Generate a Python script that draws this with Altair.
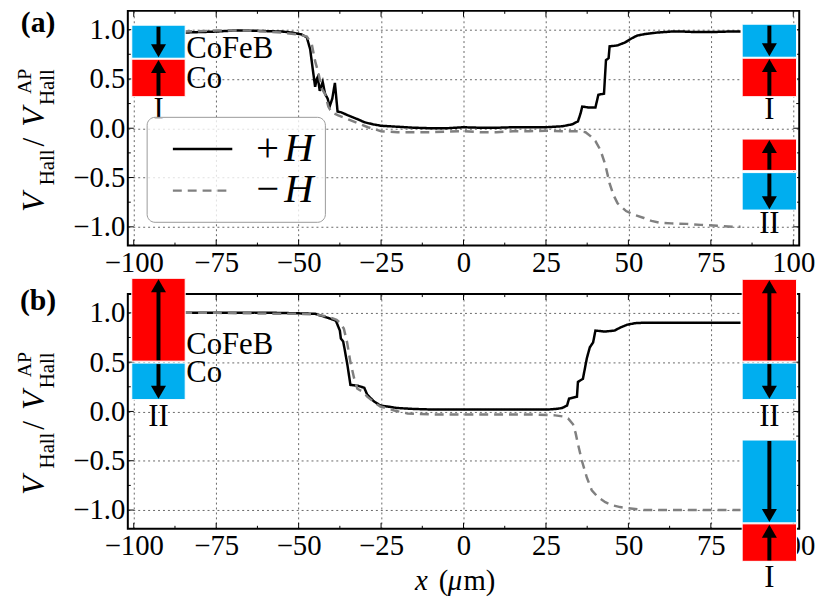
import altair as alt
import pandas as pd

# ------------------------------------------------------------------ data
# panel (a)
a_pos_x = [-85, -80, -75, -70, -65, -60, -55, -52, -49, -47.5, -46.5, -45.8, -45, -44.5, -44.2, -43.6,
           -42.7, -42, -41.2, -40.6, -39.8, -39, -38.2, -37, -35, -32, -30, -27.5, -25, -20, -15, -10,
           -5, 0, 5, 10, 15, 20, 25, 30, 33, 34.7, 35.5, 36, 38, 40, 40.9, 42.6, 43.2, 44, 44.3, 46.7,
           49, 50.9, 52.7, 55, 58.7, 62.9, 67, 70, 75, 80, 84]
a_pos_y = [0.97, 0.975, 0.98, 0.99, 0.99, 0.985, 0.98, 0.97, 0.95, 0.92, 0.80, 0.62, 0.42, 0.50, 0.52,
           0.38, 0.47, 0.35, 0.30, 0.22, 0.30, 0.46, 0.17, 0.16, 0.13, 0.09, 0.06, 0.04, 0.025, 0.015,
           0.005, 0.0, 0.0, 0.01, 0.005, 0.005, 0.01, 0.01, 0.01, 0.02, 0.04, 0.07, 0.15, 0.22, 0.21,
           0.21, 0.34, 0.35, 0.69, 0.71, 0.83, 0.84, 0.87, 0.91, 0.94, 0.955, 0.97, 0.98, 0.98, 0.975,
           0.975, 0.98, 0.98]
a_neg_x = [-85, -75, -65, -55, -50, -47.5, -46, -45, -44, -43, -42, -41, -40, -38, -35, -32, -29, -25,
           -20, -15, -10, -5, 0, 5, 10, 15, 20, 25, 30, 35, 37, 38.5, 40, 41.5, 43, 44.3, 45.5, 46.7,
           48, 49.3, 52, 54.7, 57, 59.8, 63, 67.7, 72, 77, 82.7, 84]
a_neg_y = [0.98, 0.99, 0.99, 0.97, 0.95, 0.93, 0.85, 0.68, 0.56, 0.40, 0.35, 0.22, 0.16, 0.13, 0.09,
           0.05, 0.01, -0.03, -0.04, -0.04, -0.04, -0.035, -0.03, -0.04, -0.04, -0.03, -0.03, -0.025,
           -0.03, -0.03, -0.04, -0.08, -0.13, -0.22, -0.37, -0.56, -0.68, -0.76, -0.80, -0.84, -0.88,
           -0.91, -0.94, -0.96, -0.965, -0.97, -0.98, -0.99, -1.0, -1.0]
# panel (b)
b_pos_x = [-85, -75, -65, -57, -50, -45, -41.2, -38.7, -37.5, -37.2, -36.5, -36.1, -35.2, -34.3, -32,
           -30.1, -29.2, -27.1, -25.2, -22, -20.2, -15, -10, 0, 10, 20, 25.7, 28, 29.9, 31.4, 32, 34.4,
           34.7, 36.2, 37.4, 38.3, 39.3, 40, 42.8, 45.8, 47.5, 49.7, 52, 54.7, 60, 70, 84]
b_pos_y = [1.0, 1.0, 1.0, 1.0, 0.995, 0.99, 0.95, 0.92, 0.82, 0.74, 0.71, 0.64, 0.47, 0.27, 0.26, 0.24,
           0.17, 0.10, 0.06, 0.045, 0.035, 0.025, 0.02, 0.02, 0.02, 0.02, 0.02, 0.025, 0.035, 0.06,
           0.13, 0.15, 0.30, 0.33, 0.54, 0.65, 0.70, 0.82, 0.81, 0.82, 0.85, 0.88, 0.895, 0.90, 0.90,
           0.90, 0.90]
b_neg_x = [-85, -75, -65, -55, -50, -45, -41, -38.5, -37.5, -36.3, -35.3, -34.3, -33.2, -32.2, -30.5,
           -29.2, -27, -25.2, -21, -17, -10, 0, 10, 20, 27.8, 30, 31.7, 33.2, 34, 34.7, 35.9, 37.4,
           38.9, 40.8, 43, 45, 47.5, 49.8, 54.7, 65, 75, 84]
b_neg_y = [1.0, 1.0, 0.995, 0.99, 0.99, 0.985, 0.96, 0.93, 0.90, 0.84, 0.70, 0.50, 0.34, 0.23, 0.20,
           0.15, 0.09, 0.05, 0.01, -0.02, -0.03, -0.03, -0.03, -0.03, -0.04, -0.05, -0.07, -0.13, -0.22,
           -0.33, -0.50, -0.67, -0.80, -0.87, -0.92, -0.95, -0.97, -0.98, -1.0, -1.0, -1.0, -1.0]

series_labels = ["+\u200aH", "\u2212\u200aH"]

x_major = [-100, -75, -50, -25, 0, 25, 50, 75, 100]
x_minor = [-87.5, -62.5, -37.5, -12.5, 12.5, 37.5, 62.5, 87.5]
y_major = [-1.0, -0.5, 0.0, 0.5, 1.0]
y_minor = [-0.75, -0.25, 0.25, 0.75]

# schematic magnetisation stacks (data units): panel, colour, x0, x1, y0, y1
box_panel = ["a", "a", "a", "a", "a", "a", "b", "b", "b", "b", "b", "b"]
box_color = ["blue", "red", "blue", "red", "red", "blue", "red", "blue", "red", "blue", "blue", "red"]
box_x0 = [-100.6, -100.6, 84.5, 84.5, 84.5, 84.5, -100.6, -100.6, 84.5, 84.5, 84.5, 84.5]
box_x1 = [-84.4, -84.4, 101, 101, 101, 101, -84.4, -84.4, 101, 101, 101, 101]
box_y0 = [0.71, 0.32, 0.72, 0.32, -0.43, -0.83, 0.51, 0.12, 0.51, 0.12, -1.13, -1.52]
box_y1 = [1.045, 0.70, 1.055, 0.71, -0.11, -0.45, 1.35, 0.49, 1.34, 0.49, -0.29, -1.14]
# arrows: panel, x, tail, tip
arrow_panel = ["a", "a", "a", "a", "a", "a", "b", "b", "b", "b", "b", "b"]
arrow_x = [-92.5, -92.5, 92.75, 92.75, 92.75, 92.75, -92.5, -92.5, 92.75, 92.75, 92.75, 92.75]
arrow_tail = [1.03, 0.33, 1.04, 0.33, -0.42, -0.46, 0.52, 0.48, 0.52, 0.48, -0.30, -1.51]
arrow_tip = [0.72, 0.69, 0.73, 0.70, -0.12, -0.82, 1.34, 0.13, 1.33, 0.13, -1.12, -1.15]
# labels
lab_panel = ["a", "a", "a", "a", "a", "b", "b", "b", "b", "b"]
lab_text = ["CoFeB", "Co", "I", "I", "II", "CoFeB", "Co", "II", "II", "I"]
lab_x = [-84.1, -84.1, -92.5, 92.75, 92.75, -84.1, -84.1, -92.5, 92.75, 92.75]
lab_y = [0.71, 0.41, 0.09, 0.09, -1.065, 0.58, 0.30, -0.15, -0.15, -1.78]
lab_align = ["left", "left", "center", "center", "center", "left", "left", "center", "center", "center"]

BLUE = "#00AEEF"
RED = "#FF0000"
FONT = "Liberation Serif"
W, H = 678, 237

xscale = alt.Scale(domain=[-101.8, 101.8], nice=False, zero=False)
yscale = alt.Scale(domain=[-1.19, 1.19], nice=False, zero=False)

AXIS_COMMON = dict(title=None, grid=True, ticks=False, tickSize=0, domain=False, labelFontSize=29,
                   labelPadding=3, labelFlush=False, labelOverlap=False, gridDash=[2, 3],
                   gridColor="black", gridOpacity=0.75, gridWidth=0.8, labelFont=FONT,
                   labelColor="black")
XAXIS = alt.Axis(values=x_major, format="d", **AXIS_COMMON)
YAXIS = alt.Axis(values=y_major, format=".1f", **AXIS_COMMON)


def X(field):
    return alt.X(field, scale=xscale, axis=XAXIS)


def Y(field):
    return alt.Y(field, scale=yscale, axis=YAXIS)


def one():
    return pd.DataFrame({"k": [0]})


def text_at(txt, x, y, size, style="normal", weight="normal", angle=0, align="left"):
    return alt.Chart(one()).mark_text(
        text=txt, font=FONT, fontSize=size, fontStyle=style, fontWeight=weight,
        angle=angle, align=align, baseline="alphabetic", color="black"
    ).encode(x=alt.value(x), y=alt.value(y))


def ticks_layers():
    out = []
    for vals, ln in ((x_major, 6), (x_minor, 3)):
        d = pd.DataFrame({"v": vals})
        out.append(alt.Chart(d).mark_rule(color="black", strokeWidth=1).encode(
            x=X("v:Q"), y=alt.value(H), y2=alt.value(H - ln)))
        out.append(alt.Chart(d).mark_rule(color="black", strokeWidth=1).encode(
            x=X("v:Q"), y=alt.value(0), y2=alt.value(ln)))
    for vals, ln in ((y_major, 6), (y_minor, 3)):
        d = pd.DataFrame({"v": vals})
        out.append(alt.Chart(d).mark_rule(color="black", strokeWidth=1).encode(
            y=Y("v:Q"), x=alt.value(0), x2=alt.value(ln)))
        out.append(alt.Chart(d).mark_rule(color="black", strokeWidth=1).encode(
            y=Y("v:Q"), x=alt.value(W), x2=alt.value(W - ln)))
    return out


def ytitle_layers():
    return [
        text_at("V", -85, 203, 32, style="italic", angle=270),
        text_at("Hall", -75, 176, 21, angle=270),
        text_at("/", -85, 137, 32, angle=270),
        text_at("V", -85, 117, 32, style="italic", angle=270),
        text_at("Hall", -75, 95, 21, angle=270),
        text_at("AP", -98, 84, 20, angle=270),
    ]


def panel(name, pos_x, pos_y, neg_x, neg_y, show_legend):
    df = pd.concat([
        pd.DataFrame({"x": pos_x, "y": pos_y, "series": series_labels[0]}),
        pd.DataFrame({"x": neg_x, "y": neg_y, "series": series_labels[1]}),
    ])
    if show_legend:
        leg = alt.Legend(
            title=None, orient="none", legendX=19, legendY=107, padding=11,
            symbolType="M-1.5,0H1.5", symbolSize=1600, symbolStrokeWidth=2.5,
            symbolOffset=24, labelOffset=30, rowPadding=-4,
            labelFont=FONT, labelFontSize=41, labelFontStyle="italic", labelColor="black",
            strokeColor="#9a9a9a", cornerRadius=8, fillColor="rgba(255,255,255,0.8)",
        )
    else:
        leg = None
    lines = alt.Chart(df).mark_line(strokeWidth=2.5).encode(
        x=X("x:Q"),
        y=Y("y:Q"),
        color=alt.Color("series:N", scale=alt.Scale(domain=series_labels, range=["black", "#808080"]),
                        legend=leg),
        strokeDash=alt.StrokeDash("series:N",
                                  scale=alt.Scale(domain=series_labels, range=[[1, 0], [9, 6]]),
                                  legend=leg),
    )

    boxes = pd.DataFrame({"p": box_panel, "c": box_color, "x0": box_x0, "x1": box_x1,
                          "y0": box_y0, "y1": box_y1})
    boxes = boxes[boxes["p"] == name]
    rects = []
    for cname, col in (("blue", BLUE), ("red", RED)):
        rects.append(alt.Chart(boxes[boxes["c"] == cname]).mark_rect(fill=col, stroke="white",
                                                                    strokeWidth=1).encode(
            x=X("x0:Q"), x2="x1:Q", y=Y("y0:Q"), y2="y1:Q"))

    ar = pd.DataFrame({"p": arrow_panel, "ax": arrow_x, "t0": arrow_tail, "t1": arrow_tip})
    ar = ar[ar["p"] == name].copy()
    direction = [1 if b > a else -1 for a, b in zip(ar["t0"], ar["t1"])]
    ar["shaft_end"] = [t - d * 0.09 for t, d in zip(ar["t1"], direction)]
    ar["head"] = [t - d * 0.065 for t, d in zip(ar["t1"], direction)]
    ar["dir"] = ["up" if d > 0 else "down" for d in direction]
    shafts = alt.Chart(ar).mark_rule(color="black", strokeWidth=4).encode(
        x=X("ax:Q"), y=Y("t0:Q"), y2="shaft_end:Q")
    heads = alt.Chart(ar).mark_point(filled=True, color="black", opacity=1, size=230).encode(
        x=X("ax:Q"), y=Y("head:Q"),
        shape=alt.Shape("dir:N", scale=alt.Scale(domain=["up", "down"],
                                                 range=["triangle-up", "triangle-down"]),
                        legend=None))

    lab = pd.DataFrame({"p": lab_panel, "t": lab_text, "lx": lab_x, "ly": lab_y, "a": lab_align})
    lab = lab[lab["p"] == name]
    texts = []
    for al in ("left", "center"):
        texts.append(alt.Chart(lab[lab["a"] == al]).mark_text(
            font=FONT, fontSize=31, align=al, baseline="alphabetic", color="black").encode(
            x=X("lx:Q"), y=Y("ly:Q"), text="t:N"))

    layers = [lines] + ticks_layers() + rects + [shafts, heads] + texts + ytitle_layers()
    if name == "a":
        layers.append(text_at("(a)", -108, 21, 30, weight="bold"))
    else:
        layers.append(text_at("(b)", -109, 16, 30, weight="bold"))
        layers += [
            text_at("x", 290, 299, 29, style="italic"),
            text_at("(", 314, 299, 29),
            text_at("\u03bc", 323, 299, 29, style="italic"),
            text_at("m)", 339, 299, 29),
        ]
    return alt.layer(*layers).properties(width=W, height=H)


pa = panel("a", a_pos_x, a_pos_y, a_neg_x, a_neg_y, True)
pb = panel("b", b_pos_x, b_pos_y, b_neg_x, b_neg_y, False)

chart = alt.vconcat(pa, pb, spacing=49, bounds="flush").resolve_scale(
    color="independent", strokeDash="independent", shape="independent"
).resolve_legend(color="independent", strokeDash="independent", shape="independent").properties(
    padding={"left": 6, "top": -4, "right": 5, "bottom": 0}, background="white"
).configure(font=FONT).configure_view(stroke="black", strokeWidth=2)

chart.save("out.html", embed_options={"renderer": "svg", "actions": False})
